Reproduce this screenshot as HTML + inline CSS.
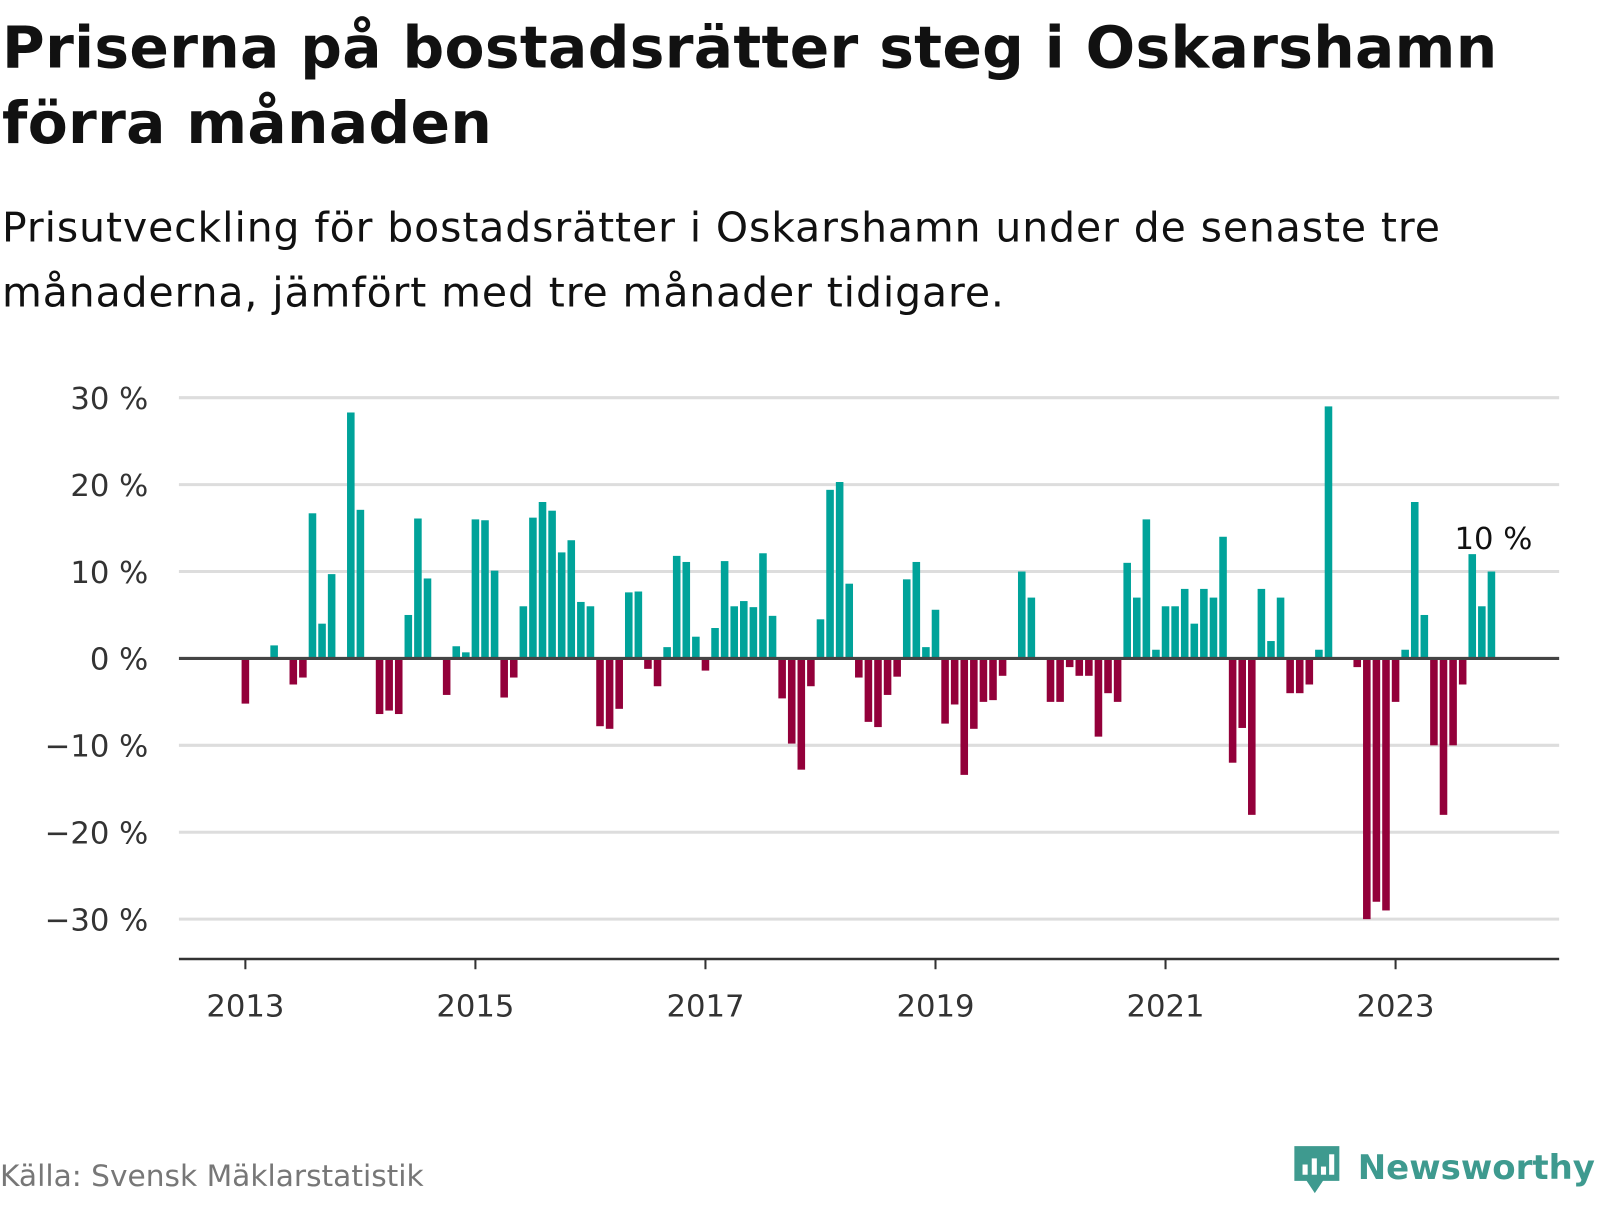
<!DOCTYPE html>
<html><head><meta charset="utf-8">
<style>
body{margin:0;background:#fff;width:1600px;height:1200px;overflow:hidden;font-family:"DejaVu Sans","Liberation Sans",sans-serif;}
#wrap{position:absolute;left:0;top:0;width:1565px;height:1174px;transform:scale(1.0224);transform-origin:0 0;}
#title{position:absolute;left:2px;top:10px;font-size:57px;font-weight:bold;line-height:74px;color:#111;letter-spacing:0.3px;white-space:nowrap}
#sub{position:absolute;left:2px;top:191px;font-size:40px;line-height:64px;color:#111;letter-spacing:0.9px;white-space:nowrap}
#src{position:absolute;left:0;top:1133px;font-size:29px;color:#777}
#logo{position:absolute;left:1262px;top:1115px;}
</style></head><body>
<div id="wrap">
<div id="title">Priserna på bostadsrätter steg i Oskarshamn<br>förra månaden</div>
<div id="sub">Prisutveckling för bostadsrätter i Oskarshamn under de senaste tre<br>månaderna, jämfört med tre månader tidigare.</div>
<svg id="chart" width="1565" height="1100" style="position:absolute;left:0;top:0"></svg>
<div id="src">Källa: Svensk Mäklarstatistik</div>
<div id="logo">
<svg width="303" height="62">
<path d="M4 6h44v34H32l-8 12-8-12H4z" fill="#3e9a8f"/>
<rect x="12" y="24" width="5" height="10" fill="#fff"/><rect x="21" y="18" width="5" height="16" fill="#fff"/><rect x="30" y="26" width="5" height="8" fill="#fff"/><rect x="38" y="14" width="5" height="20" fill="#fff"/>
<text x="66" y="38" font-family="DejaVu Sans, sans-serif" font-size="33" font-weight="bold" fill="#3e9a8f" textLength="232" lengthAdjust="spacingAndGlyphs">Newsworthy</text>
</svg></div>
</div>
<script>
const startYear = 2013;
const values = [-5.2,null,null,1.5,null,-3,-2.2,16.7,4,9.7,null,28.3,
17.1,null,-6.4,-6,-6.4,5,16.1,9.2,null,-4.2,1.4,0.7,
16,15.9,10.1,-4.5,-2.2,6,16.2,18,17,12.2,13.6,6.5,
6,-7.8,-8.1,-5.8,7.6,7.7,-1.2,-3.2,1.3,11.8,11.1,2.5,
-1.4,3.5,11.2,6,6.6,5.9,12.1,4.9,-4.6,-9.8,-12.8,-3.2,
4.5,19.4,20.3,8.6,-2.2,-7.3,-7.9,-4.2,-2.1,9.1,11.1,1.3,
5.6,-7.5,-5.3,-13.4,-8.1,-5,-4.8,-2,null,10,7,null,
-5,-5,-1,-2,-2,-9,-4,-5,11,7,16,1,
6,6,8,4,8,7,14,-12,-8,-18,8,2,
7,-4,-4,-3,1,29,null,null,-1,-30,-28,-29,
-5,1,18,5,-10,-18,-10,-3,12,6,10];
const yTicks = [30,20,10,0,-10,-20,-30];
const xTickYears = [2013,2015,2017,2019,2021,2023];
const NS="http://www.w3.org/2000/svg";
const svg=document.getElementById('chart');
const x0=240, monthW=9.375, yZero=644, pxPer=8.5;
const xs=i=>x0+i*monthW, ys=v=>yZero-v*pxPer;
const FF='DejaVu Sans, Liberation Sans, sans-serif';
function el(t,a){const e=document.createElementNS(NS,t);for(const k in a)e.setAttribute(k,a[k]);svg.appendChild(e);return e;}
yTicks.forEach(t=>{
  if(t!==0){const g=el('line',{x1:175,x2:1525,y1:ys(t),y2:ys(t),stroke:'#ddd','stroke-width':3});
  
  }
  const tx=el('text',{x:145,y:ys(t)+11,'text-anchor':'end','font-size':30,fill:'#333','font-family':FF});
  tx.textContent=(t<0?'\u2212'+(-t):t)+' %';
  
  
});
values.forEach((v,i)=>{
  if(v===null)return;
  const r=el('rect',{x:xs(i)-3.7,width:7.4,y:Math.min(ys(v),yZero),height:Math.abs(v*pxPer),fill:v>=0?'#00a39a':'#93003a'});
  
  
});
const z=el('line',{x1:175,x2:1525,y1:yZero,y2:yZero,stroke:'#444','stroke-width':3});


const ax=el('line',{x1:175,x2:1525,y1:938,y2:938,stroke:'#333','stroke-width':2.5});


xTickYears.forEach(yr=>{
  const x=xs((yr-startYear)*12);
  const tk=el('line',{x1:x,x2:x,y1:938,y2:948,stroke:'#333','stroke-width':2});
  
  
  const t=el('text',{x:x,y:994,'text-anchor':'middle','font-size':30,fill:'#333','font-family':FF});
  t.textContent=yr;
  
  
});
const last=values.length-1;
const lb=el('text',{x:xs(last)+2,y:ys(values[last])-22,'text-anchor':'middle','font-size':30,fill:'#111','font-family':FF});
lb.textContent=values[last]+' %';


</script>
</body></html>
